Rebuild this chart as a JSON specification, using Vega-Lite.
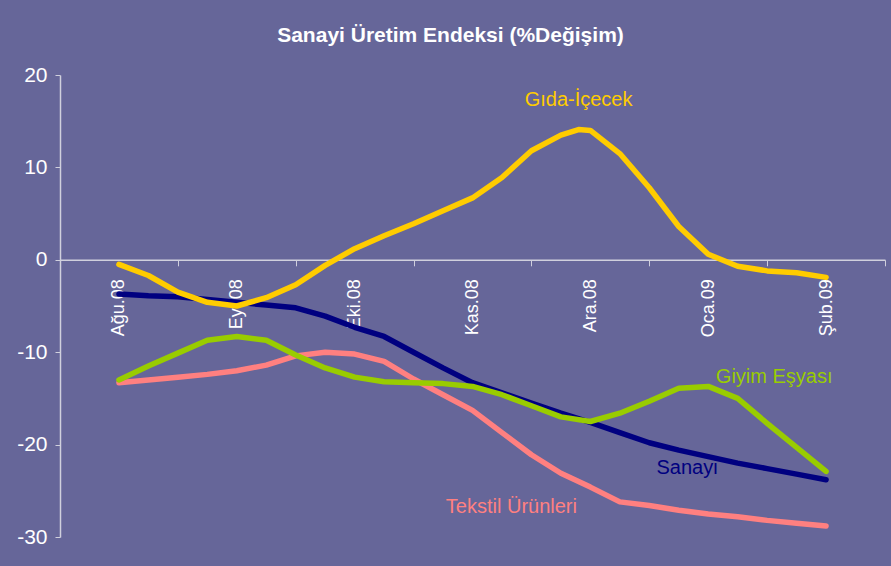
{
  "$schema": "https://vega.github.io/schema/vega-lite/v6.json",
  "autosize": {"type": "none"},
  "width": 825,
  "height": 462,
  "padding": {"left": 60, "top": 75, "right": 6, "bottom": 29},
  "background": "#666699",
  "config": {"view": {"stroke": null}, "font": "Liberation Sans"},
  "title": {
    "text": "Sanayi Üretim Endeksi  (%Değişim)",
    "color": "white",
    "fontSize": 21,
    "fontWeight": "bold",
    "font": "Liberation Sans",
    "anchor": "middle",
    "dx": -22,
    "offset": 18
  },
  "datasets": {
    "series": [
      {"s": "Sanayi", "t": 0, "v": -3.7}, {"s": "Sanayi", "t": 0.25, "v": -3.9}, {"s": "Sanayi", "t": 0.5, "v": -4.0}, {"s": "Sanayi", "t": 0.75, "v": -4.3}, {"s": "Sanayi", "t": 1, "v": -4.6}, {"s": "Sanayi", "t": 1.25, "v": -4.9}, {"s": "Sanayi", "t": 1.5, "v": -5.2}, {"s": "Sanayi", "t": 1.75, "v": -6.1}, {"s": "Sanayi", "t": 2, "v": -7.3}, {"s": "Sanayi", "t": 2.25, "v": -8.3}, {"s": "Sanayi", "t": 2.5, "v": -10.0}, {"s": "Sanayi", "t": 2.75, "v": -11.7}, {"s": "Sanayi", "t": 3, "v": -13.3}, {"s": "Sanayi", "t": 3.25, "v": -14.4}, {"s": "Sanayi", "t": 3.5, "v": -15.5}, {"s": "Sanayi", "t": 3.75, "v": -16.6}, {"s": "Sanayi", "t": 4, "v": -17.6}, {"s": "Sanayi", "t": 4.25, "v": -18.7}, {"s": "Sanayi", "t": 4.5, "v": -19.8}, {"s": "Sanayi", "t": 4.75, "v": -20.6}, {"s": "Sanayi", "t": 5, "v": -21.3}, {"s": "Sanayi", "t": 5.25, "v": -22.0}, {"s": "Sanayi", "t": 5.5, "v": -22.6}, {"s": "Sanayi", "t": 5.75, "v": -23.2}, {"s": "Sanayi", "t": 6, "v": -23.8},
      {"s": "Tekstil Ürünleri", "t": 0, "v": -13.3}, {"s": "Tekstil Ürünleri", "t": 0.25, "v": -13.0}, {"s": "Tekstil Ürünleri", "t": 0.5, "v": -12.7}, {"s": "Tekstil Ürünleri", "t": 0.75, "v": -12.4}, {"s": "Tekstil Ürünleri", "t": 1, "v": -12.0}, {"s": "Tekstil Ürünleri", "t": 1.25, "v": -11.4}, {"s": "Tekstil Ürünleri", "t": 1.5, "v": -10.4}, {"s": "Tekstil Ürünleri", "t": 1.75, "v": -10.0}, {"s": "Tekstil Ürünleri", "t": 2, "v": -10.2}, {"s": "Tekstil Ürünleri", "t": 2.25, "v": -11.0}, {"s": "Tekstil Ürünleri", "t": 2.5, "v": -12.9}, {"s": "Tekstil Ürünleri", "t": 2.75, "v": -14.6}, {"s": "Tekstil Ürünleri", "t": 3, "v": -16.3}, {"s": "Tekstil Ürünleri", "t": 3.25, "v": -18.7}, {"s": "Tekstil Ürünleri", "t": 3.5, "v": -21.1}, {"s": "Tekstil Ürünleri", "t": 3.75, "v": -23.1}, {"s": "Tekstil Ürünleri", "t": 4, "v": -24.6}, {"s": "Tekstil Ürünleri", "t": 4.25, "v": -26.2}, {"s": "Tekstil Ürünleri", "t": 4.5, "v": -26.6}, {"s": "Tekstil Ürünleri", "t": 4.75, "v": -27.1}, {"s": "Tekstil Ürünleri", "t": 5, "v": -27.5}, {"s": "Tekstil Ürünleri", "t": 5.25, "v": -27.8}, {"s": "Tekstil Ürünleri", "t": 5.5, "v": -28.2}, {"s": "Tekstil Ürünleri", "t": 5.75, "v": -28.5}, {"s": "Tekstil Ürünleri", "t": 6, "v": -28.8},
      {"s": "Giyim Eşyası", "t": 0, "v": -13.0}, {"s": "Giyim Eşyası", "t": 0.25, "v": -11.5}, {"s": "Giyim Eşyası", "t": 0.5, "v": -10.1}, {"s": "Giyim Eşyası", "t": 0.75, "v": -8.7}, {"s": "Giyim Eşyası", "t": 1, "v": -8.3}, {"s": "Giyim Eşyası", "t": 1.25, "v": -8.7}, {"s": "Giyim Eşyası", "t": 1.5, "v": -10.3}, {"s": "Giyim Eşyası", "t": 1.75, "v": -11.7}, {"s": "Giyim Eşyası", "t": 2, "v": -12.7}, {"s": "Giyim Eşyası", "t": 2.25, "v": -13.2}, {"s": "Giyim Eşyası", "t": 2.5, "v": -13.3}, {"s": "Giyim Eşyası", "t": 2.75, "v": -13.4}, {"s": "Giyim Eşyası", "t": 3, "v": -13.7}, {"s": "Giyim Eşyası", "t": 3.25, "v": -14.6}, {"s": "Giyim Eşyası", "t": 3.5, "v": -15.8}, {"s": "Giyim Eşyası", "t": 3.75, "v": -17.0}, {"s": "Giyim Eşyası", "t": 4, "v": -17.5}, {"s": "Giyim Eşyası", "t": 4.25, "v": -16.6}, {"s": "Giyim Eşyası", "t": 4.5, "v": -15.3}, {"s": "Giyim Eşyası", "t": 4.75, "v": -13.9}, {"s": "Giyim Eşyası", "t": 5, "v": -13.7}, {"s": "Giyim Eşyası", "t": 5.25, "v": -15.0}, {"s": "Giyim Eşyası", "t": 5.5, "v": -17.7}, {"s": "Giyim Eşyası", "t": 5.75, "v": -20.3}, {"s": "Giyim Eşyası", "t": 6, "v": -22.9},
      {"s": "Gıda-İçecek", "t": 0, "v": -0.5}, {"s": "Gıda-İçecek", "t": 0.25, "v": -1.7}, {"s": "Gıda-İçecek", "t": 0.5, "v": -3.5}, {"s": "Gıda-İçecek", "t": 0.75, "v": -4.6}, {"s": "Gıda-İçecek", "t": 1, "v": -5.0}, {"s": "Gıda-İçecek", "t": 1.25, "v": -4.1}, {"s": "Gıda-İçecek", "t": 1.5, "v": -2.7}, {"s": "Gıda-İçecek", "t": 1.75, "v": -0.6}, {"s": "Gıda-İçecek", "t": 2, "v": 1.2}, {"s": "Gıda-İçecek", "t": 2.25, "v": 2.6}, {"s": "Gıda-İçecek", "t": 2.5, "v": 3.9}, {"s": "Gıda-İçecek", "t": 2.75, "v": 5.3}, {"s": "Gıda-İçecek", "t": 3, "v": 6.7}, {"s": "Gıda-İçecek", "t": 3.25, "v": 8.9}, {"s": "Gıda-İçecek", "t": 3.5, "v": 11.8}, {"s": "Gıda-İçecek", "t": 3.75, "v": 13.5}, {"s": "Gıda-İçecek", "t": 3.9, "v": 14.1}, {"s": "Gıda-İçecek", "t": 4, "v": 14.0}, {"s": "Gıda-İçecek", "t": 4.25, "v": 11.5}, {"s": "Gıda-İçecek", "t": 4.5, "v": 7.8}, {"s": "Gıda-İçecek", "t": 4.75, "v": 3.6}, {"s": "Gıda-İçecek", "t": 5, "v": 0.6}, {"s": "Gıda-İçecek", "t": 5.25, "v": -0.7}, {"s": "Gıda-İçecek", "t": 5.5, "v": -1.2}, {"s": "Gıda-İçecek", "t": 5.75, "v": -1.4}, {"s": "Gıda-İçecek", "t": 6, "v": -1.9}
    ],
    "labels": [
      {"s": "Gıda-İçecek", "t": 3.9, "v": 17.3},
      {"s": "Giyim Eşyası", "t": 5.56, "v": -12.7},
      {"s": "Sanayi", "t": 4.82, "v": -22.5},
      {"s": "Tekstil Ürünleri", "t": 3.33, "v": -26.7}
    ]
  },
  "encoding": {
    "x": {
      "field": "t",
      "type": "quantitative",
      "scale": {"domain": [-0.5, 6.5], "nice": false, "zero": false},
      "axis": {
        "title": null,
        "values": [0, 0.5, 1, 1.5, 2, 2.5, 3, 3.5, 4, 4.5, 5, 5.5, 6, 6.5],
        "labelExpr": "datum.value === 0 ? 'Ağu.08' : datum.value === 1 ? 'Eyl.08' : datum.value === 2 ? 'Eki.08' : datum.value === 3 ? 'Kas.08' : datum.value === 4 ? 'Ara.08' : datum.value === 5 ? 'Oca.09' : datum.value === 6 ? 'Şub.09' : ''",
        "offset": -277.2,
        "grid": false,
        "labelAngle": 270,
        "labelAlign": "right",
        "labelBaseline": "middle",
        "labelFontSize": 18,
        "labelColor": "white",
        "labelFont": "Liberation Sans",
        "labelPadding": 13,
        "labelOverlap": false,
        "labelBound": false,
        "tickSize": 6,
        "tickColor": "#d0d0dd",
        "tickOpacity": {"condition": {"test": "datum.value % 1 === 0", "value": 0}, "value": 1},
        "domainColor": "#d0d0dd",
        "domainWidth": 1.5
      }
    },
    "y": {
      "field": "v",
      "type": "quantitative",
      "scale": {"domain": [-30, 20], "nice": false},
      "axis": {
        "title": null,
        "values": [-30, -20, -10, 0, 10, 20],
        "labelExpr": "datum.value + ''",
        "grid": false,
        "labelFontSize": 21,
        "labelColor": "white",
        "labelFont": "Liberation Sans",
        "labelPadding": 8,
        "tickSize": 5,
        "tickColor": "#d0d0dd",
        "domainColor": "#d0d0dd",
        "domainWidth": 1.5
      }
    },
    "color": {
      "field": "s",
      "type": "nominal",
      "scale": {
        "domain": ["Sanayi", "Tekstil Ürünleri", "Giyim Eşyası", "Gıda-İçecek"],
        "range": ["#000080", "#FF8080", "#99CC00", "#FFCC00"]
      },
      "legend": null
    }
  },
  "layer": [
    {
      "data": {"name": "series"},
      "mark": {"type": "line", "strokeWidth": 5.5, "strokeCap": "round", "strokeJoin": "round"},
      "encoding": {"order": {"field": "t", "type": "quantitative"}}
    },
    {
      "data": {"name": "labels"},
      "mark": {"type": "text", "fontSize": 20, "font": "Liberation Sans", "align": "center", "baseline": "middle"},
      "encoding": {"text": {"field": "s", "type": "nominal"}}
    }
  ]
}
